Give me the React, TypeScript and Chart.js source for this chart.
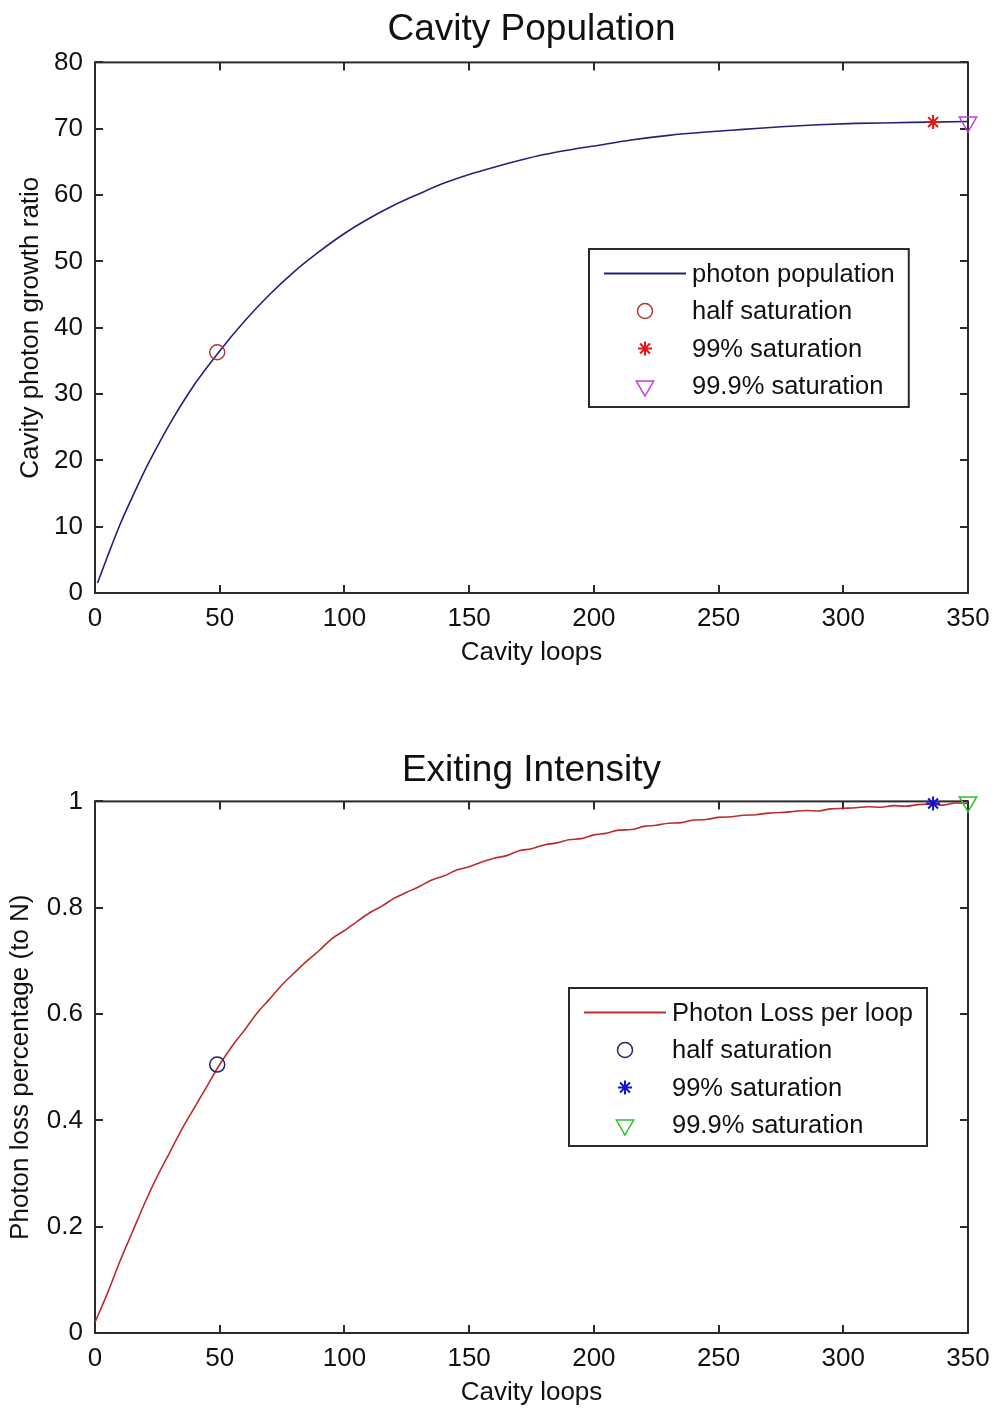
import React, { useEffect, useRef } from 'react';
import { Chart, registerables } from 'chart.js';

Chart.register(...registerables);

const FONT = "'Liberation Sans', Arial, Helvetica, sans-serif";
const TEXT = '#111111';
const AXIS = '#2a2a2a';

// ---------- shared ----------
const X_TICKS = [0, 50, 100, 150, 200, 250, 300, 350];
const X_TICK_LABELS = ['0', '50', '100', '150', '200', '250', '300', '350'];

// ---------- Cavity Population ----------
const POP_Y_TICKS = [0, 10, 20, 30, 40, 50, 60, 70, 80];
const POP_Y_TICK_LABELS = ['0', '10', '20', '30', '40', '50', '60', '70', '80'];
const POP_LOOPS = [1, 5, 10, 15, 20, 25, 30, 40, 50, 60, 70, 80, 90, 100, 110, 120, 130, 140, 150, 160, 170, 180, 190, 200, 215, 230, 245, 260, 275, 290, 305, 320, 335, 350];
const POP_VALUES = [1.5, 5.5, 10.3, 14.5, 18.5, 22.1, 25.5, 31.5, 36.5, 41.0, 45.0, 48.5, 51.5, 54.2, 56.5, 58.5, 60.2, 61.8, 63.1, 64.2, 65.2, 66.1, 66.8, 67.4, 68.3, 69.0, 69.5, 69.9, 70.3, 70.6, 70.8, 70.9, 71.0, 71.1];
const POP_MARKER_LOOPS = [49, 336, 350];
const POP_MARKER_VALUES = [36.3, 71.0, 71.0];
const POP_LEGEND = ['photon population', 'half saturation', '99% saturation', '99.9% saturation'];

// ---------- Exiting Intensity ----------
const LOSS_Y_TICKS = [0, 0.2, 0.4, 0.6, 0.8, 1];
const LOSS_Y_TICK_LABELS = ['0', '0.2', '0.4', '0.6', '0.8', '1'];
const LOSS_LOOPS = [0, 5, 10, 15, 20, 25, 30, 35, 40, 45, 50, 55, 60, 65, 70, 75, 80, 85, 90, 95, 100, 105, 110, 115, 120, 125, 130, 135, 140, 145, 150, 155, 160, 165, 170, 175, 180, 185, 190, 195, 200, 205, 210, 215, 220, 225, 230, 235, 240, 245, 250, 255, 260, 265, 270, 275, 280, 285, 290, 295, 300, 305, 310, 315, 320, 325, 330, 335, 340, 345, 350];
const LOSS_VALUES = [0.02, 0.075, 0.135, 0.19, 0.245, 0.295, 0.34, 0.385, 0.425, 0.465, 0.505, 0.54, 0.57, 0.602, 0.628, 0.655, 0.678, 0.7, 0.72, 0.742, 0.757, 0.774, 0.79, 0.803, 0.818, 0.829, 0.84, 0.852, 0.86, 0.871, 0.877, 0.886, 0.893, 0.898, 0.907, 0.911, 0.918, 0.922, 0.928, 0.93, 0.937, 0.94, 0.946, 0.947, 0.953, 0.955, 0.959, 0.96, 0.965, 0.966, 0.97, 0.971, 0.974, 0.975, 0.978, 0.979, 0.981, 0.983, 0.982, 0.986, 0.987, 0.988, 0.99, 0.989, 0.992, 0.991, 0.994, 0.995, 0.993, 0.997, 0.996];
const LOSS_MARKER_LOOPS = [49, 336, 350];
const LOSS_MARKER_VALUES = [0.505, 0.996, 0.999];
const LOSS_LEGEND = ['Photon Loss per loop', 'half saturation', '99% saturation', '99.9% saturation'];

type Kind = 'line' | 'circle' | 'star' | 'tri';

function drawSymbol(ctx: CanvasRenderingContext2D, kind: Kind, x: number, y: number, color: string) {
  ctx.save();
  ctx.strokeStyle = color;
  ctx.lineWidth = kind === 'star' ? 2 : 1.5;
  ctx.beginPath();
  if (kind === 'line') {
    ctx.lineWidth = 2;
    ctx.moveTo(x - 41, y);
    ctx.lineTo(x + 41, y);
  } else if (kind === 'circle') {
    ctx.arc(x, y, 7.5, 0, Math.PI * 2);
  } else if (kind === 'star') {
    const r = 7;
    ctx.moveTo(x - r, y); ctx.lineTo(x + r, y);
    ctx.moveTo(x, y - r); ctx.lineTo(x, y + r);
    const d = r * 0.7071;
    ctx.moveTo(x - d, y - d); ctx.lineTo(x + d, y + d);
    ctx.moveTo(x - d, y + d); ctx.lineTo(x + d, y - d);
  } else {
    const r = 10;
    ctx.moveTo(x, y + r);
    ctx.lineTo(x - r * 0.866, y - r * 0.5);
    ctx.lineTo(x + r * 0.866, y - r * 0.5);
    ctx.closePath();
  }
  ctx.stroke();
  ctx.restore();
}

const framePlugin = {
  id: 'frame',
  beforeDatasetsDraw(chart: any) {
    const { ctx, chartArea } = chart;
    const { left, right, top, bottom } = chartArea;
    const xs = chart.scales.x;
    const ys = chart.scales.y;
    const T = 8;
    ctx.save();
    ctx.strokeStyle = AXIS;
    ctx.lineWidth = 2;
    ctx.strokeRect(left, top, right - left, bottom - top);
    ctx.beginPath();
    xs.ticks.forEach((t: any) => {
      const px = Math.round(xs.getPixelForValue(t.value));
      ctx.moveTo(px, bottom); ctx.lineTo(px, bottom - T);
      ctx.moveTo(px, top); ctx.lineTo(px, top + T);
    });
    ys.ticks.forEach((t: any) => {
      const py = Math.round(ys.getPixelForValue(t.value));
      ctx.moveTo(left, py); ctx.lineTo(left + T, py);
      ctx.moveTo(right, py); ctx.lineTo(right - T, py);
    });
    ctx.stroke();
    ctx.restore();
  },
};

const legendPlugin = {
  id: 'boxLegend',
  afterDraw(chart: any, _args: any, opts: any) {
    if (!opts || !opts.labels) return;
    const { ctx } = chart;
    ctx.save();
    ctx.font = `25.5px ${FONT}`;
    let maxW = 0;
    opts.labels.forEach((l: string) => { maxW = Math.max(maxW, ctx.measureText(l).width); });
    const w = 103 + maxW + 14;
    const h = 158;
    ctx.fillStyle = '#ffffff';
    ctx.fillRect(opts.x, opts.y, w, h);
    ctx.strokeStyle = AXIS;
    ctx.lineWidth = 2;
    ctx.strokeRect(opts.x, opts.y, w, h);
    ctx.fillStyle = TEXT;
    ctx.textBaseline = 'middle';
    ctx.textAlign = 'left';
    opts.labels.forEach((l: string, i: number) => {
      const cy = opts.y + 24.5 + i * 37.5;
      drawSymbol(ctx, opts.kinds[i], opts.x + 56, cy, opts.colors[i]);
      ctx.fillStyle = TEXT;
      ctx.fillText(l, opts.x + 103, cy + 1);
    });
    ctx.restore();
  },
};

interface Spec {
  title: string;
  titlePad: { top: number; bottom: number };
  yTitle: string;
  yTitlePad: number;
  yMin: number;
  yMax: number;
  yTicks: number[];
  yTickLabels: string[];
  lineLoops: number[];
  lineValues: number[];
  lineColor: string;
  markerLoops: number[];
  markerValues: number[];
  markerColors: string[];
  legendLabels: string[];
  legendX: number;
  legendY: number;
  xAxisHeight: number;
  xTitlePadBottom: number;
}

function buildConfig(s: Spec): any {
  const line = s.lineLoops.map((x, i) => ({ x, y: s.lineValues[i] }));
  const pt = (i: number) => [{ x: s.markerLoops[i], y: s.markerValues[i] }];
  return {
    type: 'scatter',
    data: {
      datasets: [
        {
          label: s.legendLabels[0],
          data: line,
          showLine: true,
          borderColor: s.lineColor,
          borderWidth: 1.6,
          pointRadius: 0,
          cubicInterpolationMode: 'monotone',
          order: 4,
        },
        {
          label: s.legendLabels[1],
          data: pt(0),
          pointStyle: 'circle',
          pointRadius: 7.5,
          borderWidth: 1.5,
          borderColor: s.markerColors[0],
          backgroundColor: 'rgba(0,0,0,0)',
          clip: false,
          order: 3,
        },
        {
          label: s.legendLabels[2],
          data: pt(1),
          pointStyle: 'star',
          pointRadius: 7,
          borderWidth: 2,
          borderColor: s.markerColors[1],
          backgroundColor: s.markerColors[1],
          clip: false,
          order: 2,
        },
        {
          label: s.legendLabels[3],
          data: pt(2),
          pointStyle: 'triangle',
          rotation: 180,
          pointRadius: 10,
          borderWidth: 1.5,
          borderColor: s.markerColors[2],
          backgroundColor: 'rgba(0,0,0,0)',
          clip: false,
          order: 1,
        },
      ],
    },
    options: {
      responsive: false,
      animation: false,
      devicePixelRatio: 1,
      layout: { padding: { left: 0, right: 26, top: 0, bottom: 0 } },
      plugins: {
        legend: { display: false },
        tooltip: { enabled: false },
        title: {
          display: true,
          fullSize: false,
          text: s.title,
          color: TEXT,
          font: { family: FONT, size: 37, weight: 'normal', lineHeight: 1.2 },
          padding: s.titlePad,
        },
        boxLegend: {
          x: s.legendX,
          y: s.legendY,
          labels: s.legendLabels,
          kinds: ['line', 'circle', 'star', 'tri'],
          colors: [s.lineColor, ...s.markerColors],
        },
      },
      scales: {
        x: {
          type: 'linear',
          min: 0,
          max: 350,
          grid: { display: false, drawTicks: false, tickLength: 0 },
          border: { display: false },
          afterBuildTicks: (sc: any) => { sc.ticks = X_TICKS.map((v) => ({ value: v })); },
          afterFit: (sc: any) => {
            sc.height = s.xAxisHeight;
            sc.paddingLeft = 0;
            sc.paddingRight = 0;
          },
          ticks: {
            color: TEXT,
            font: { family: FONT, size: 26 },
            padding: 10,
            maxRotation: 0,
            callback: (v: number) => X_TICK_LABELS[X_TICKS.indexOf(v)] ?? '',
          },
          title: {
            display: true,
            text: 'Cavity loops',
            color: TEXT,
            font: { family: FONT, size: 26, lineHeight: 1.2 },
            padding: { top: 0, bottom: s.xTitlePadBottom },
          },
        },
        y: {
          type: 'linear',
          min: s.yMin,
          max: s.yMax,
          grid: { display: false, drawTicks: false, tickLength: 0 },
          border: { display: false },
          afterBuildTicks: (sc: any) => { sc.ticks = s.yTicks.map((v) => ({ value: v })); },
          afterFit: (sc: any) => {
            sc.width = 95;
            sc.paddingTop = 0;
            sc.paddingBottom = 0;
          },
          ticks: {
            color: TEXT,
            font: { family: FONT, size: 26 },
            padding: 12,
            callback: (v: number) => s.yTickLabels[s.yTicks.indexOf(v)] ?? '',
          },
          title: {
            display: true,
            text: s.yTitle,
            color: TEXT,
            font: { family: FONT, size: 26, lineHeight: 1.2 },
            padding: { top: s.yTitlePad, bottom: 0 },
          },
        },
      },
    },
    plugins: [framePlugin, legendPlugin],
  };
}

function Panel({ spec, height }: { spec: Spec; height: number }) {
  const ref = useRef<HTMLCanvasElement | null>(null);
  useEffect(() => {
    if (!ref.current) return;
    const chart = new Chart(ref.current, buildConfig(spec));
    return () => chart.destroy();
  }, [spec]);
  return <canvas ref={ref} width={994} height={height} style={{ display: 'block', width: 994, height }} />;
}

const TOP_SPEC: Spec = {
  title: 'Cavity Population',
  titlePad: { top: 8, bottom: 10 },
  yTitle: 'Cavity photon growth ratio',
  yTitlePad: 15,
  yMin: 0,
  yMax: 80,
  yTicks: POP_Y_TICKS,
  yTickLabels: POP_Y_TICK_LABELS,
  lineLoops: POP_LOOPS,
  lineValues: POP_VALUES,
  lineColor: '#22227c',
  markerLoops: POP_MARKER_LOOPS,
  markerValues: POP_MARKER_VALUES,
  markerColors: ['#b03838', '#e01818', '#c040d0'],
  legendLabels: POP_LEGEND,
  legendX: 589,
  legendY: 249,
  xAxisHeight: 112,
  xTitlePadBottom: 37,
};

const BOTTOM_SPEC: Spec = {
  title: 'Exiting Intensity',
  titlePad: { top: 44, bottom: 8 },
  yTitle: 'Photon loss percentage (to N)',
  yTitlePad: 5,
  yMin: 0,
  yMax: 1,
  yTicks: LOSS_Y_TICKS,
  yTickLabels: LOSS_Y_TICK_LABELS,
  lineLoops: LOSS_LOOPS,
  lineValues: LOSS_VALUES,
  lineColor: '#bc2c2c',
  markerLoops: LOSS_MARKER_LOOPS,
  markerValues: LOSS_MARKER_VALUES,
  markerColors: ['#22226a', '#1414d0', '#30c030'],
  legendLabels: LOSS_LEGEND,
  legendX: 569,
  legendY: 283,
  xAxisHeight: 77,
  xTitlePadBottom: 2,
};

export default function App() {
  return (
    <div style={{ position: 'absolute', left: 0, top: 0, width: 994, height: 1410, background: '#ffffff' }}>
      <Panel spec={TOP_SPEC} height={705} />
      <Panel spec={BOTTOM_SPEC} height={705} />
    </div>
  );
}
